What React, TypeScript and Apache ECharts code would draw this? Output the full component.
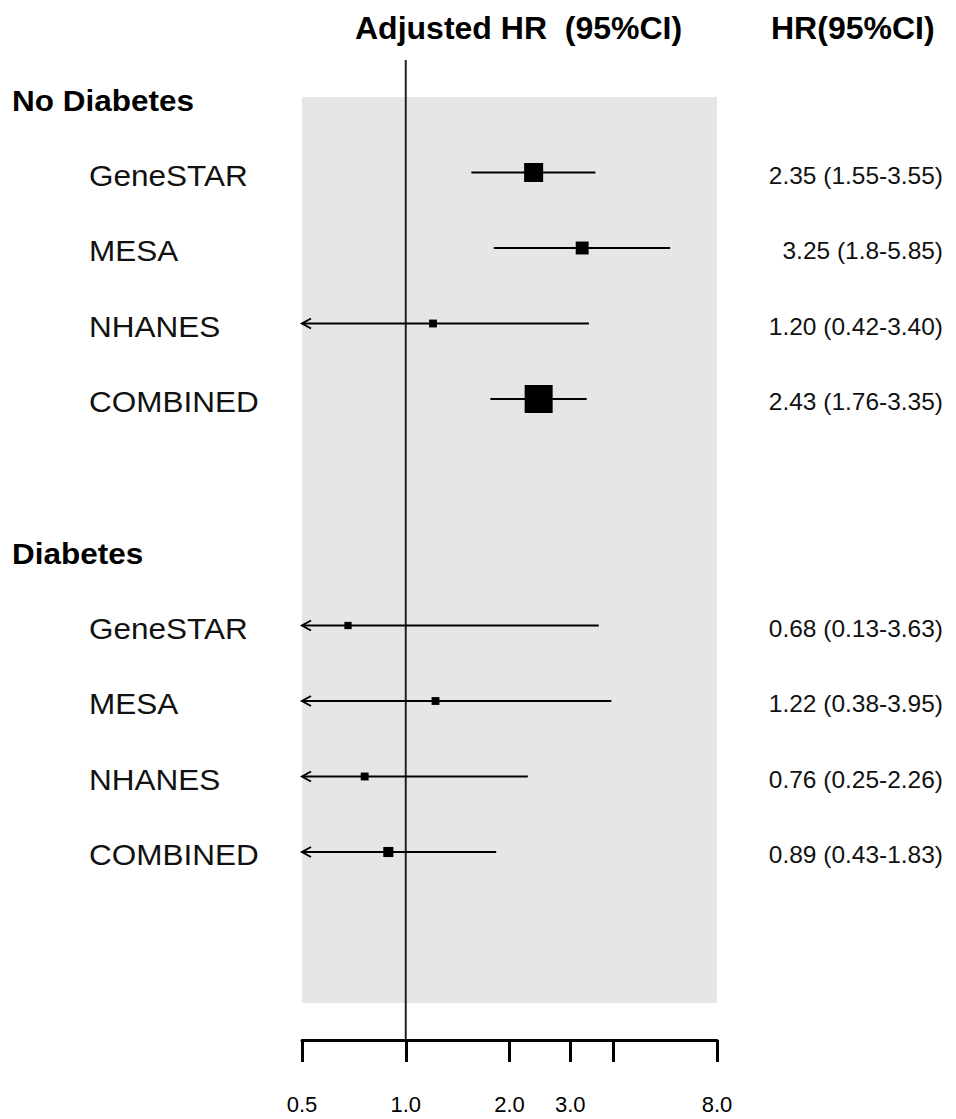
import React, { useEffect, useRef } from "react";
import * as echarts from "echarts";

// ---- data ----
const groupNames = ["No Diabetes", "Diabetes"];
const groupRows = [0, 6];
const studies = ["GeneSTAR", "MESA", "NHANES", "COMBINED", "GeneSTAR", "MESA", "NHANES", "COMBINED"];
const studyRows = [1, 2, 3, 4, 7, 8, 9, 10];
const hr = [2.35, 3.25, 1.2, 2.43, 0.68, 1.22, 0.76, 0.89];
const lower = [1.55, 1.8, 0.42, 1.76, 0.13, 0.38, 0.25, 0.43];
const upper = [3.55, 5.85, 3.4, 3.35, 3.63, 3.95, 2.26, 1.83];
const weights = [0.68, 0.46, 0.28, 1.0, 0.26, 0.28, 0.28, 0.36];
const hrLabels = [
  "2.35 (1.55-3.55)",
  "3.25 (1.8-5.85)",
  "1.20 (0.42-3.40)",
  "2.43 (1.76-3.35)",
  "0.68 (0.13-3.63)",
  "1.22 (0.38-3.95)",
  "0.76 (0.25-2.26)",
  "0.89 (0.43-1.83)",
];
const tickValues = [0.5, 1, 2, 3, 4, 8];
const tickLabelValues = [0.5, 1, 2, 3, 8];
const xMin = 0.5;
const xMax = 8;
const refValue = 1;
const rowMax = 12;

const FONT = '"Liberation Sans", Arial, sans-serif';
const MAX_BOX = 28;

export default function App() {
  const ref = useRef<HTMLDivElement>(null);
  useEffect(() => {
    if (!ref.current) return;
    const chart = echarts.init(ref.current, null, { renderer: "svg" });

    const forestData = hr.map((v, i) => [v, lower[i], upper[i], studyRows[i], weights[i]]);

    const option: any = {
      animation: false,
      backgroundColor: "#ffffff",
      grid: {
        show: true,
        backgroundColor: "#e6e6e6",
        borderWidth: 0,
        left: 302,
        right: 239,
        top: 97,
        bottom: 116,
      },
      xAxis: {
        type: "log",
        logBase: 2,
        min: xMin,
        max: xMax,
        position: "bottom",
        offset: 37,
        axisLine: { show: true, onZero: false, lineStyle: { color: "#000", width: 3 } },
        axisTick: {
          show: true,
          length: 22,
          customValues: tickValues,
          lineStyle: { color: "#000", width: 3 },
        },
        axisLabel: {
          customValues: tickLabelValues,
          formatter: (v: number) => Number(v).toFixed(1),
          fontSize: 22,
          fontFamily: FONT,
          color: "#000",
          margin: 53,
        },
        splitLine: { show: false },
      },
      yAxis: {
        type: "value",
        inverse: true,
        min: 0,
        max: rowMax,
        show: false,
      },
      graphic: [
        {
          type: "text",
          x: 355,
          y: 28,
          style: {
            text: "Adjusted HR  (95%CI)",
            fontSize: 32,
            fontWeight: "bold",
            fontFamily: FONT,
            fill: "#000",
            verticalAlign: "middle",
          },
        },
        {
          type: "text",
          x: 771,
          y: 28,
          style: {
            text: "HR(95%CI)",
            fontSize: 32,
            fontWeight: "bold",
            fontFamily: FONT,
            fill: "#000",
            verticalAlign: "middle",
          },
        },
      ],
      series: [
        {
          // reference line at HR = 1
          type: "custom",
          data: [[refValue]],
          silent: true,
          z: 3,
          renderItem: (params: any, api: any) => {
            const cs = params.coordSys;
            const x = api.coord([api.value(0), 0])[0];
            return {
              type: "line",
              shape: { x1: x, y1: cs.y - 37, x2: x, y2: cs.y + cs.height + 37 },
              style: { stroke: "#222", lineWidth: 2 },
            };
          },
        },
        {
          // CI lines and boxes
          type: "custom",
          data: forestData,
          silent: true,
          z: 4,
          renderItem: (params: any, api: any) => {
            const cs = params.coordSys;
            const est = api.value(0);
            const lo = api.value(1);
            const hi = api.value(2);
            const row = api.value(3);
            const w = api.value(4);
            const pE = api.coord([est, row]);
            const y = pE[1];
            const clippedLo = lo < xMin;
            const xL = clippedLo ? cs.x : api.coord([lo, row])[0];
            const xH = api.coord([Math.min(hi, xMax), row])[0];
            const size = w * MAX_BOX;
            const children: any[] = [
              {
                type: "line",
                shape: { x1: xL, y1: y, x2: xH, y2: y },
                style: { stroke: "#000", lineWidth: 2 },
              },
              {
                type: "rect",
                shape: { x: pE[0] - size / 2, y: y - size / 2, width: size, height: size },
                style: { fill: "#000" },
              },
            ];
            if (clippedLo) {
              children.push({
                type: "polyline",
                shape: { points: [[cs.x + 9, y - 5], [cs.x, y], [cs.x + 9, y + 5]] },
                style: { stroke: "#000", lineWidth: 2, fill: "none" },
              });
            }
            return { type: "group", children };
          },
        },
        {
          // study labels
          type: "custom",
          data: studyRows.map((r) => [xMin, r]),
          silent: true,
          renderItem: (params: any, api: any) => {
            const y = api.coord([xMin, api.value(1)])[1] + 3;
            return {
              type: "text",
              x: 89,
              y,
              scaleX: 1.05,
              style: {
                text: studies[params.dataIndex],
                fontSize: 30,
                fontFamily: FONT,
                fill: "#111",
                verticalAlign: "middle",
                align: "left",
              },
            };
          },
        },
        {
          // HR text column
          type: "custom",
          data: studyRows.map((r) => [xMin, r]),
          silent: true,
          renderItem: (params: any, api: any) => {
            const y = api.coord([xMin, api.value(1)])[1] + 3;
            return {
              type: "text",
              x: 943,
              y,
              scaleX: 1.02,
              style: {
                text: hrLabels[params.dataIndex],
                fontSize: 24,
                fontFamily: FONT,
                fill: "#111",
                verticalAlign: "middle",
                align: "right",
              },
            };
          },
        },
        {
          // group headers
          type: "custom",
          data: groupRows.map((r) => [xMin, r]),
          silent: true,
          renderItem: (params: any, api: any) => {
            const y = api.coord([xMin, api.value(1)])[1] + 4;
            return {
              type: "text",
              x: 12,
              y,
              scaleX: 1.05,
              style: {
                text: groupNames[params.dataIndex],
                fontSize: 30,
                fontWeight: "bold",
                fontFamily: FONT,
                fill: "#000",
                verticalAlign: "middle",
                align: "left",
              },
            };
          },
        },
      ],
    };

    chart.setOption(option);
    return () => {
      chart.dispose();
    };
  }, []);

  return (
    <div
      ref={ref}
      style={{ position: "fixed", left: 0, top: 0, width: 956, height: 1119 }}
    />
  );
}
